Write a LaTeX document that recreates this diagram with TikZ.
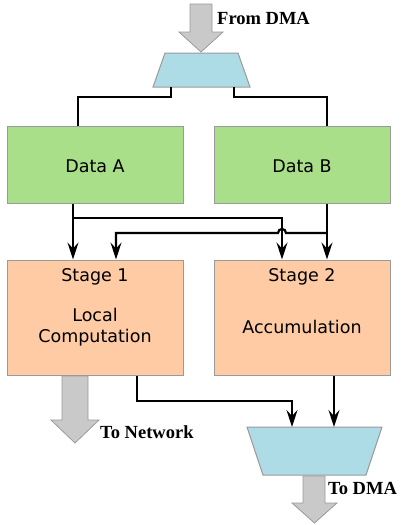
\documentclass[tikz,border=0pt]{standalone}
\usepackage{fontspec}
\setsansfont{DejaVu Sans}
\newfontfamily\lblfont{Liberation Serif}
\usetikzlibrary{arrows.meta}
\definecolor{dgreen}{HTML}{A9DF88}
\definecolor{dpeach}{HTML}{FFCBA4}
\definecolor{dblue}{HTML}{ADDCE7}
\definecolor{dgray}{HTML}{C9C9C9}
\definecolor{dedge}{HTML}{9A9A9A}
\tikzset{
  box/.style={draw=dedge, line width=1pt, inner sep=0pt, minimum width=176pt, minimum height=77pt},
  databox/.style={box, fill=dgreen},
  stagebox/.style={box, fill=dpeach, minimum height=115pt},
  boxtext/.style={font=\sffamily\fontsize{17.5}{21}\selectfont, align=center, inner sep=0pt},
  lbl/.style={font=\lblfont\bfseries\fontsize{18.5}{20}\selectfont, anchor=west, inner sep=0pt},
  wire/.style={line width=2.2pt, black},
  awire/.style={wire, -{Stealth[length=17pt,width=11pt,inset=6pt]}},
  blockarrow/.style={fill=dgray, draw=dedge, line width=0.8pt},
  muxshape/.style={draw=dedge, line width=1pt, fill=dblue}
}
\begin{document}
\begin{tikzpicture}[x=1pt,y=-1pt]
\useasboundingbox (0,0) rectangle (400,525);
% top block arrow
\draw[blockarrow] (190,4) -- (212,4) -- (212,32) -- (223,32) -- (201,52) -- (179,32) -- (190,32) -- cycle;
\node[lbl] (fromdma) at (217,18) {From DMA};
% top mux
\draw[muxshape] (165,53) -- (238,53) -- (250,87) -- (153,87) -- cycle;
\coordinate (topmuxL) at (171,87);
\coordinate (topmuxR) at (234,87);
% data boxes
\node[databox] (dataA) at (95,164.5) {};
\node[boxtext] (dataAt) at (95,166) {Data A};
\node[databox] (dataB) at (302,164.5) {};
\node[boxtext] (dataBt) at (302,166) {Data B};
% stage boxes
\node[stagebox] (stage1) at (95,317.5) {};
\node[boxtext] (s1a) at (95,277) {Stage 1};
\node[boxtext] (s1b) at (95,327) {Local\\Computation};
\node[stagebox] (stage2) at (302,317.5) {};
\node[boxtext] (s2a) at (302,277) {Stage 2};
\node[boxtext] (s2b) at (302,327) {Accumulation};
% bottom mux
\draw[muxshape] (247,427) -- (382,427) -- (366,475) -- (263,475) -- cycle;
\coordinate (botmuxL) at (292,427);
\coordinate (botmuxR) at (334,427);
% wires from top mux to data boxes
\draw[wire] (topmuxL) -- (171,97) -- (78,97) -- (78,0 |- dataA.north);
\draw[wire] (topmuxR) -- (234,97) -- (327,97) -- (327,0 |- dataB.north);
% data to stages
\draw[awire] (73,0 |- dataA.south) -- (73,0 |- stage1.north);
\draw[awire] (73,218) -- (282,218) -- (282,0 |- stage2.north);
\draw[awire] (327,0 |- dataB.south) -- (327,0 |- stage2.north);
\draw[awire] (327,233) -- (286,233) .. controls (286,227.7) and (278,227.7) .. (278,233) -- (116,233) -- (116,0 |- stage1.north);
% stages to bottom mux
\draw[awire] (137,0 |- stage1.south) -- (137,401) -- (292,401) -- (botmuxL);
\draw[awire] (334,0 |- stage2.south) -- (botmuxR);
% to network block arrow
\draw[blockarrow] (62,376) -- (88,376) -- (88,420) -- (99,420) -- (75,443) -- (51,420) -- (62,420) -- cycle;
\node[lbl] (tonet) at (100,432) {To Network};
% to DMA block arrow
\draw[blockarrow] (303,476) -- (325,476) -- (325,503) -- (337,503) -- (314.5,523) -- (292,503) -- (303,503) -- cycle;
\node[lbl] (todma) at (328,488) {To DMA};
\end{tikzpicture}
\end{document}
